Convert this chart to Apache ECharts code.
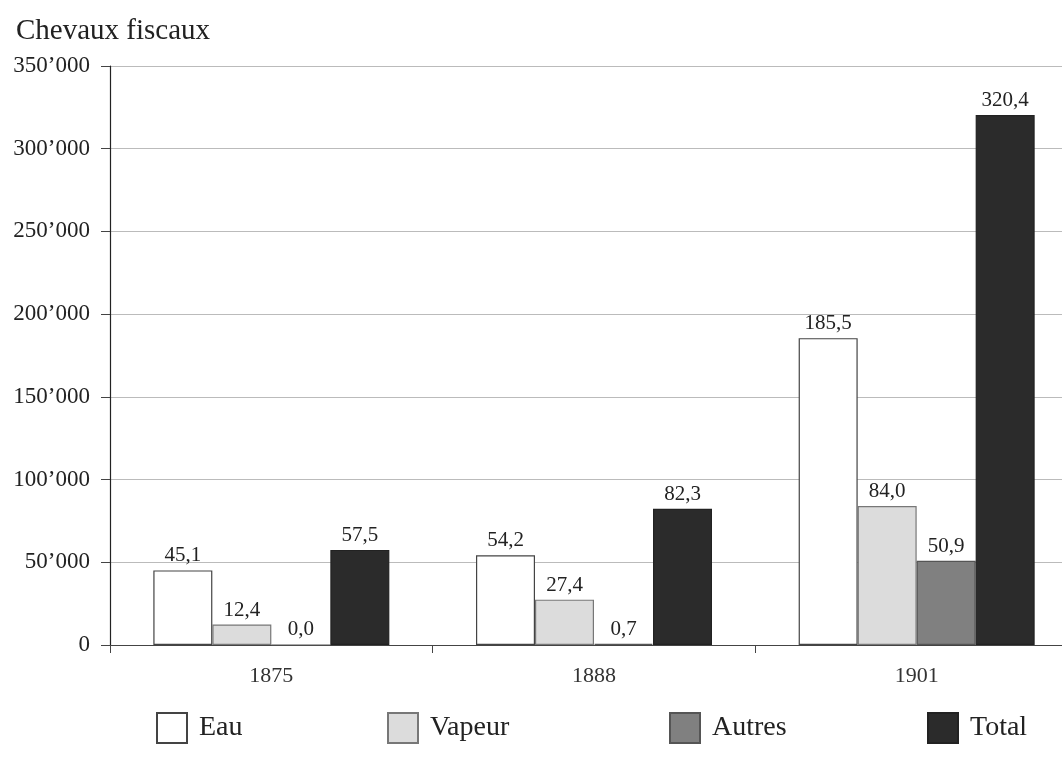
<!DOCTYPE html>
<html><head><meta charset="utf-8">
<script src="https://cdn.jsdelivr.net/npm/echarts@6/dist/echarts.min.js"></script>
<style>html,body{margin:0;padding:0;background:#fff;overflow:hidden}#c{width:1080px;height:762px}</style>
</head><body><div id="c"></div>
<script>
var categories = ['1875', '1888', '1901'];
var eau = [45100, 54200, 185500];
var vapeur = [12400, 27400, 84000];
var autres = [0, 700, 50900];
var total = [57500, 82300, 320400];
var seriesNames = ['Eau', 'Vapeur', 'Autres', 'Total'];
var yTicks = [0, 50000, 100000, 150000, 200000, 250000, 300000, 350000];

var FONT = '"Liberation Serif", "DejaVu Serif", serif';
var chart = echarts.init(document.getElementById('c'));
function lbl(p){ return (p.value/1000).toFixed(1).replace('.', ','); }
function mk(name, data, color, border){
  return {
    name: name, type: 'bar', data: data, barWidth: 59, barGap: '0%',
    itemStyle: {color: color, borderColor: border, borderWidth: 1.2},
    label: {show: true, position: 'top', distance: 4, formatter: lbl,
            fontFamily: FONT, fontSize: 21, color: '#222'}
  };
}
var legendLefts = [151, 382, 664, 922];
var legends = seriesNames.map(function(n, i){
  return {data: [n], left: legendLefts[i], top: 707, itemWidth: 30, itemHeight: 30, icon: 'rect',
          textStyle: {fontFamily: FONT, fontSize: 28, color: '#222', padding: [0, 0, 0, 7]},
          selectedMode: false};
});
chart.setOption({
  animation: false,
  title: {text: 'Chevaux fiscaux', left: 11, top: 12,
          textStyle: {fontFamily: FONT, fontSize: 29, fontWeight: 'normal', color: '#222'}},
  legend: legends,
  grid: {left: 110, top: 66, right: 2, bottom: 117, containLabel: false},
  xAxis: {
    type: 'category', data: categories,
    axisLine: {lineStyle: {color: '#444', width: 1}},
    axisTick: {show: true, length: 8, inside: false, lineStyle: {color: '#444'}},
    axisLabel: {fontFamily: FONT, fontSize: 22, color: '#333', margin: 20}
  },
  yAxis: {
    type: 'value', min: yTicks[0], max: yTicks[yTicks.length-1], interval: 50000,
    axisLine: {show: true, lineStyle: {color: '#222', width: 1.2}},
    axisTick: {show: true, length: 9, lineStyle: {color: '#444'}},
    splitLine: {lineStyle: {color: '#bbb', width: 1}},
    axisLabel: {fontFamily: FONT, fontSize: 23, color: '#222', margin: 20,
      formatter: function(v){ return v === 0 ? '0' : (v/1000) + '\u2019000'; }}
  },
  series: [
    mk('Eau', eau, '#ffffff', '#444'),
    mk('Vapeur', vapeur, '#dcdcdc', '#777'),
    mk('Autres', autres, '#808080', '#555'),
    mk('Total', total, '#2b2b2b', '#222')
  ]
});
</script></body></html>
